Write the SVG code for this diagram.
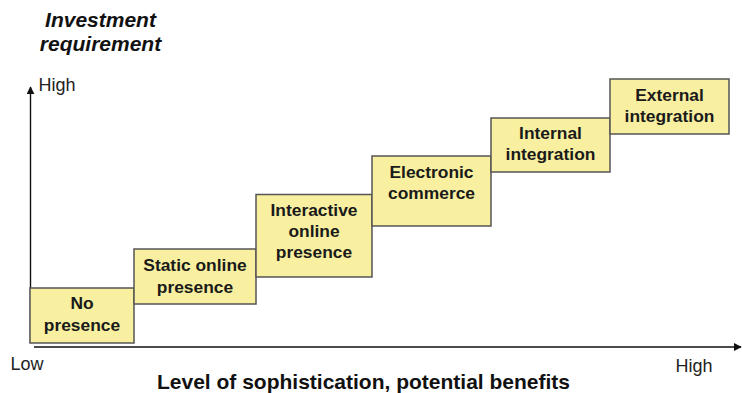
<svg xmlns="http://www.w3.org/2000/svg" width="742" height="393" viewBox="0 0 742 393">
<style>
.box{fill:#f8f0a0;stroke:#555555;stroke-width:1.5}
.bt{font-family:"Liberation Sans",Arial,sans-serif;font-weight:bold;font-size:17.4px;fill:#1a1a1a;text-anchor:middle}
.ax{font-family:"Liberation Sans",Arial,sans-serif;font-size:18px;fill:#222}
.ttl{font-family:"Liberation Sans",Arial,sans-serif;font-weight:bold;font-size:21px;fill:#111;text-anchor:middle}
.axis{stroke:#111;stroke-width:1.4;fill:none}
</style>
<defs>
<marker id="ah" viewBox="0 0 10 10" refX="9" refY="5" markerWidth="8" markerHeight="8" markerUnits="userSpaceOnUse" orient="auto">
<path d="M0,0 L10,5 L0,10 Z" fill="#111"/>
</marker>
</defs>
<g id="connectors">
<line class="axis" x1="30.5" y1="343" x2="30.5" y2="87" marker-end="url(#ah)"/>
<line class="axis" x1="34" y1="347" x2="741" y2="347" marker-end="url(#ah)"/>
</g>
<g id="title-y">
<text class="ttl" font-style="italic" x="100.5" y="27">Investment</text>
<text class="ttl" font-style="italic" x="100.5" y="51">requirement</text>
</g>
<g id="title-x">
<text class="ttl" x="363.5" y="389" font-size="21.3">Level of sophistication, potential benefits</text>
</g>
<g id="axis-labels">
<text class="ax" x="38.5" y="91">High</text>
<text class="ax" x="10.5" y="370">Low</text>
<text class="ax" x="675.5" y="372">High</text>
</g>
<g id="n1">
<rect class="box" x="30" y="288" width="104" height="55"/>
<text class="bt" x="82" y="309">No</text>
<text class="bt" x="82" y="331">presence</text>
</g>
<g id="n2">
<rect class="box" x="134" y="249" width="122" height="55"/>
<text class="bt" x="195" y="271">Static online</text>
<text class="bt" x="195" y="293">presence</text>
</g>
<g id="n3">
<rect class="box" x="256" y="194.5" width="116" height="82.5"/>
<text class="bt" x="314" y="216">Interactive</text>
<text class="bt" x="314" y="237">online</text>
<text class="bt" x="314" y="258">presence</text>
</g>
<g id="n4">
<rect class="box" x="372" y="156" width="119" height="70"/>
<text class="bt" x="431.5" y="177.5">Electronic</text>
<text class="bt" x="431.5" y="198.5">commerce</text>
</g>
<g id="n5">
<rect class="box" x="491" y="118" width="119" height="54"/>
<text class="bt" x="550.5" y="139">Internal</text>
<text class="bt" x="550.5" y="160">integration</text>
</g>
<g id="n6">
<rect class="box" x="610" y="79" width="119" height="55"/>
<text class="bt" x="669.5" y="101">External</text>
<text class="bt" x="669.5" y="122">integration</text>
</g>
</svg>
